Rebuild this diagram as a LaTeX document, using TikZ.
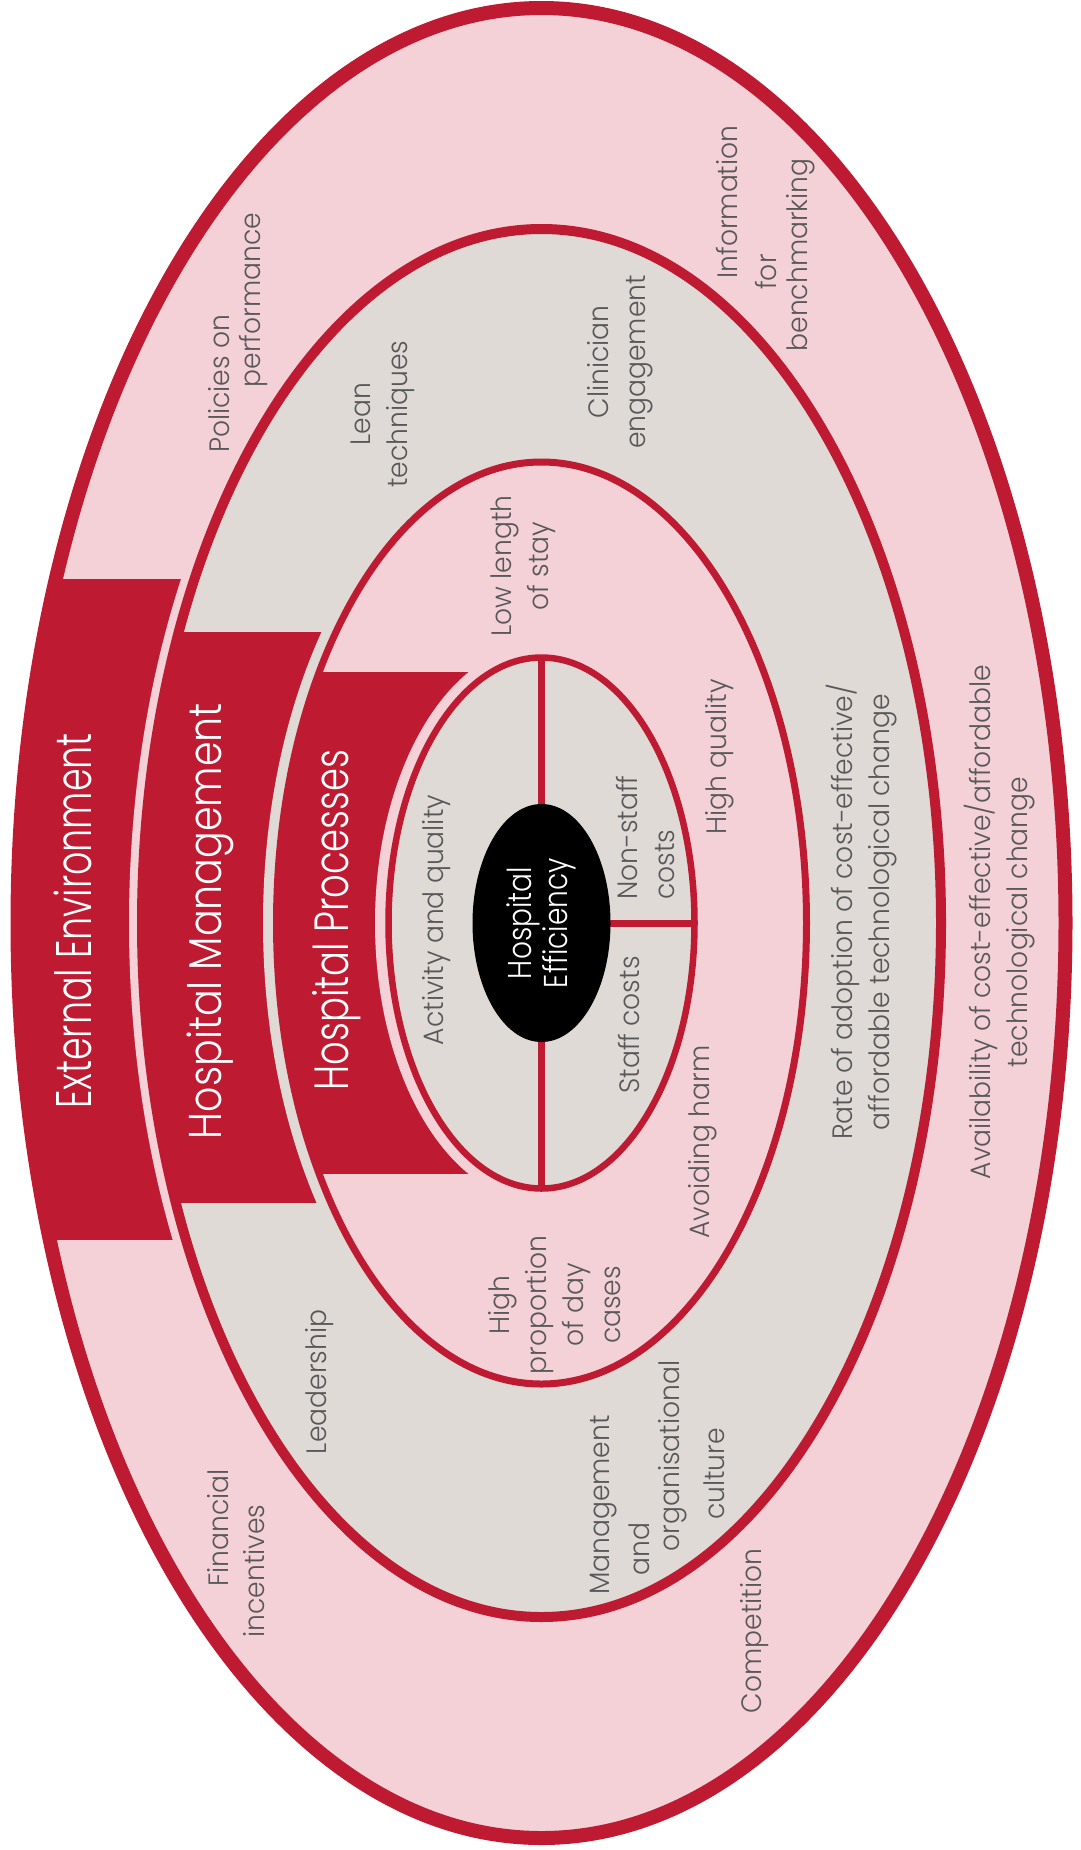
\documentclass[tikz,border=0pt]{standalone}
\usepackage{fontspec}
\IfFontExistsTF{Poppins Light}{\setmainfont{Poppins Light}}{\setmainfont{Poppins}}
\usetikzlibrary{shapes.geometric}

\definecolor{hred}{RGB}{190,27,50}
\definecolor{hpink}{RGB}{243,209,215}
\definecolor{hgrey}{RGB}{223,218,213}
\definecolor{htext}{RGB}{88,88,90}

\begin{document}
\begin{tikzpicture}[
    x=1pt, y=-1pt,
    title/.style={rotate=90, text=white, align=center, inner sep=0pt},
    lbl/.style={rotate=90, text=htext, align=center, inner sep=0pt,
        font=\fontsize{28}{37}\selectfont\addfontfeature{FakeStretch=0.95}},
    divider/.style={hred, line width=7pt}
]
    \useasboundingbox (0,0) rectangle (1080,1850);
    \coordinate (c) at (541.5,923);

    % External environment ring
    \fill[hpink] (c) ellipse [x radius=524pt, y radius=915pt];
    \begin{scope}
        \clip (c) ellipse [x radius=524pt, y radius=915pt];
        \fill[hred] (0,579) rectangle (541.5,1240);
    \end{scope}
    \fill[hpink] (c) ellipse [x radius=412.5pt, y radius=707pt];
    \draw[hred, line width=14pt] (c) ellipse [x radius=524pt, y radius=915pt];

    % Hospital management ring
    \filldraw[fill=hgrey, draw=hred, line width=10pt] (c) ellipse [x radius=399.5pt, y radius=694pt];
    \begin{scope}
        \clip (c) ellipse [x radius=399.5pt, y radius=694pt];
        \fill[hred] (0,632) rectangle (541.5,1203);
    \end{scope}
    \fill[hgrey] (c) ellipse [x radius=278.5pt, y radius=474.5pt];

    % Hospital processes ring
    \filldraw[fill=hpink, draw=hred, line width=7pt] (c) ellipse [x radius=265pt, y radius=461pt];
    \begin{scope}
        \clip (c) ellipse [x radius=265pt, y radius=461pt];
        \fill[hred] (0,672) rectangle (541.5,1174);
    \end{scope}
    \fill[hpink] (c) ellipse [x radius=166.5pt, y radius=279pt];

    % Core split into costs
    \filldraw[fill=hgrey, draw=hred, line width=6.5pt] (c) ellipse [x radius=153pt, y radius=265.5pt];
    \coordinate (core n) at (541.5,657.5);
    \coordinate (core s) at (541.5,1188.5);
    \coordinate (core e) at (694.5,923);
    \draw[divider] (core n) -- (core s);
    \draw[divider] (c) -- (core e);
    \node[ellipse, fill=black, rotate=90, minimum width=238pt, minimum height=138pt,
        inner sep=0pt, text=white, align=center,
        font=\fontsize{33}{36}\selectfont\addfontfeature{FakeStretch=0.85}] (eff) at (c) {Hospital\\Efficiency};

    % Ring titles
    \node[title, font=\fontsize{50}{60}\selectfont\addfontfeature{FakeStretch=0.73}] (ext) at (73,921) {External Environment};
    \node[title, font=\fontsize{46}{56}\selectfont\addfontfeature{FakeStretch=0.86}] (mgmt) at (210,921) {Hospital Management};
    \node[title, font=\fontsize{48}{58}\selectfont\addfontfeature{FakeStretch=0.77}] (proc) at (337,920) {Hospital Processes};

    % Environment factors (staggered lines set one by one)
    \node[lbl] (policy1) at (219,384) {Policies on};
    \node[lbl] (policy2) at (254,300) {performance};
    \node[lbl] (bench1) at (727,202) {Information};
    \node[lbl] (bench2) at (766,272) {for};
    \node[lbl] (bench3) at (801,255) {benchmarking};
    \node[lbl] (fin1) at (218,1528) {Financial};
    \node[lbl] (fin2) at (254,1571) {incentives};
    \node[lbl] (comp) at (755,1631) {Competition};
    \node[lbl] (avail) at (1000,922) {Availability of cost-effective/affordable\\technological change};

    % Management factors
    \node[lbl] (lean) at (383,414) {Lean\\techniques};
    \node[lbl] (clin) at (620,362) {Clinician\\engagement};
    \node[lbl] (lead) at (320,1382) {Leadership};
    \node[lbl] (culture1) at (604,1505) {Management};
    \node[lbl] (culture2) at (639,1549) {and};
    \node[lbl] (culture3) at (673,1456) {organisational};
    \node[lbl] (culture4) at (714,1474) {culture};
    \node[lbl] (adopt) at (862,912) {Rate of adoption of cost-effective/\\affordable technological change};

    % Process factors
    \node[lbl] (los) at (523,566) {Low length\\of stay};
    \node[lbl] (qual) at (720,757) {High quality};
    \node[lbl] (harm) at (703,1142) {Avoiding harm};
    \node[lbl] (daycase) at (555,1305) {High\\proportion\\of day\\cases};

    % Inside the core
    \node[lbl] (activity) at (437,920) {Activity and quality};
    \node[lbl, align=left, anchor=west] (nonstaff) at (646,900) {Non-staff\\costs};
    \node[lbl] (staff) at (629,1025) {Staff costs};
\end{tikzpicture}
\end{document}
